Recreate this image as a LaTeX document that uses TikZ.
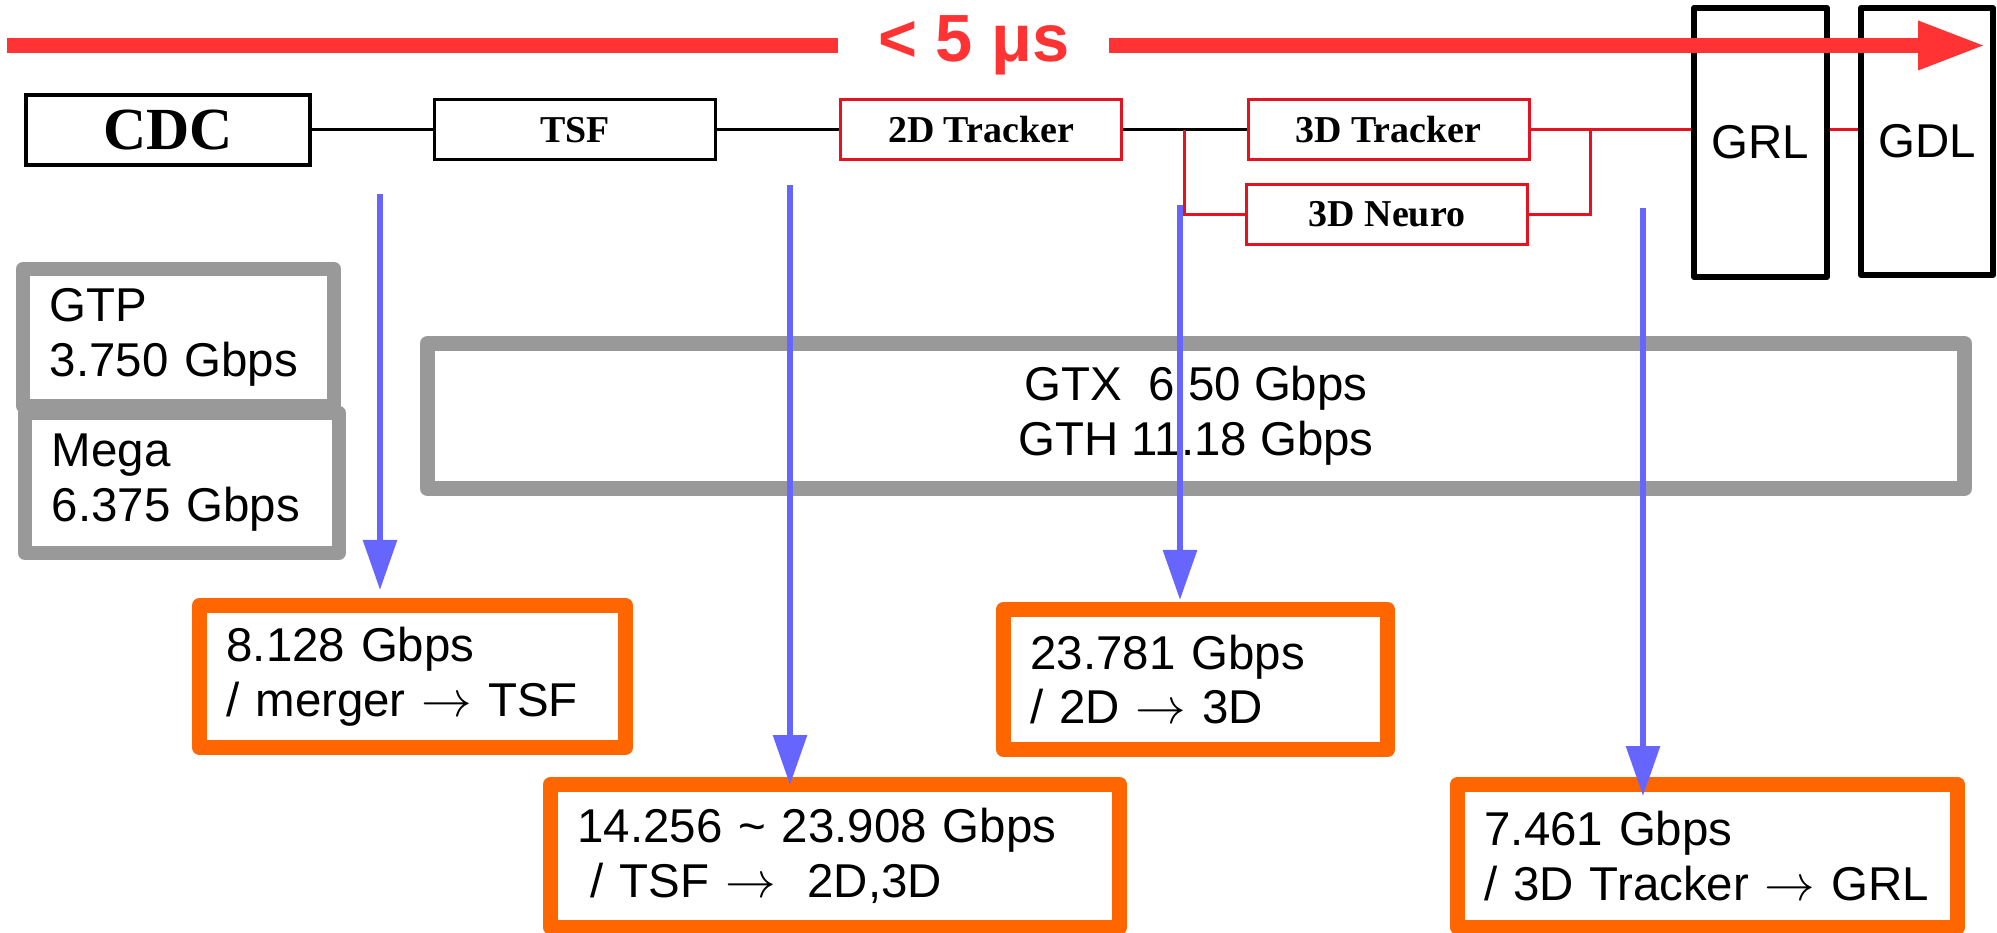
\documentclass[tikz,border=0pt]{standalone}
\usepackage{fontspec}
\setmainfont{Liberation Sans}
\newfontfamily\etapafont{Liberation Serif}
\usetikzlibrary{arrows.meta}
\definecolor{trigred}{HTML}{E5121F}
\definecolor{plazored}{HTML}{FF3333}
\definecolor{serdesgray}{HTML}{999999}
\definecolor{tasaorange}{HTML}{FF6600}
\definecolor{flujoblue}{HTML}{6666FF}

\begin{document}
\begin{tikzpicture}[
  etapa/.style={draw, line width=0.03cm, minimum width=2.81cm, minimum height=0.6cm,
                font=\etapafont\bfseries\fontsize{10.8}{12}\selectfont},
  global/.style={draw, line width=0.06cm, line join=round, minimum width=1.33cm,
                 minimum height=2.69cm, font=\fontsize{13.5}{15.6}\selectfont},
  serdes/.style={draw=serdesgray, line width=0.14cm, line join=round, inner xsep=0.27cm,
                 align=left, font=\fontsize{13.5}{15.6}\selectfont},
  tasa/.style={draw=tasaorange, line width=0.15cm, line join=round, inner xsep=0.27cm,
               minimum height=1.42cm, align=left, font=\fontsize{13.5}{15.6}\selectfont},
  enlace/.style={line width=0.03cm},
  enlacerojo/.style={line width=0.03cm, trigred},
  flechaazul/.style={-{Triangle[length=0.5cm,width=0.33cm]}, line width=0.06cm, flujoblue},
  plazo/.style={-{Triangle[length=0.68cm,width=0.45cm]}, line width=0.15cm, plazored}]
\useasboundingbox (0,0) rectangle (19.97,-9.33);

% trigger chain
\node[etapa, line width=0.04cm, minimum width=2.84cm, minimum height=0.7cm,
      font=\etapafont\bfseries\fontsize{17}{19}\selectfont] (cdc) at (1.68,-1.30) {CDC};
\node[etapa] (tsf)   at (5.75,-1.30)   {TSF};
\node[etapa, draw=trigred] (tr2)   at (9.81,-1.30)   {2D Tracker};
\node[etapa, draw=trigred] (tr3)   at (13.885,-1.30) {3D Tracker};
\node[etapa, draw=trigred] (neuro) at (13.87,-2.145) {3D Neuro};
\node[global] (grl) at (17.605,-1.425) {GRL};
\node[global, minimum width=1.32cm, minimum height=2.67cm] (gdl) at (19.27,-1.415) {GDL};
\coordinate (jl) at (11.845,-1.30);
\coordinate (jr) at (15.905,-1.30);
\draw[enlace] (cdc) -- (tsf);
\draw[enlace] (tsf) -- (tr2);
\draw[enlace] (tr2) -- (tr3);
\draw[enlacerojo] (jl) |- (neuro);
\draw[enlacerojo] (neuro) -| (jr);
\draw[enlacerojo] (tr3) -- (tr3 -| grl.west);
\draw[enlacerojo] (tr3 -| grl.east) -- (tr3 -| gdl.west);

% transceivers
\node[serdes, text width=2.57cm, minimum height=1.37cm] (gtp) at (1.785,-3.375) {GTP\\3.750 Gbps};
\node[serdes, text width=2.60cm, minimum height=1.40cm] (mega) at (1.82,-4.83) {Mega\\6.375 Gbps};
\node[serdes, line width=0.15cm, align=center, minimum width=15.37cm, minimum height=1.45cm]
  (gtx) at (11.96,-4.16) {GTX\ \ 6.50 Gbps\\GTH 11.18 Gbps};

% link rates
\node[tasa, text width=3.72cm] (r1) at (4.125,-6.765) {8.128 Gbps\\/ merger $\rightarrow$ TSF};
\node[tasa, text width=3.30cm, minimum height=1.40cm] (r2) at (11.955,-6.795) {23.781 Gbps\\/ 2D $\rightarrow$ 3D};
\node[tasa, text width=5.15cm, minimum height=1.425cm] (r3) at (8.35,-8.5575)
  {14.256 \textasciitilde{} 23.908 Gbps\\\hspace*{0.28em}/ TSF $\rightarrow$\ \ 2D,3D};
\node[tasa, text width=4.46cm, minimum height=1.425cm] (r4) at (17.075,-8.5575)
  {7.461 Gbps\\/ 3D Tracker $\rightarrow$ GRL};

\coordinate (a1) at (3.80,-1.94);
\coordinate (a2) at (7.90,-1.85);
\coordinate (a3) at (11.80,-2.05);
\coordinate (a4) at (16.43,-2.08);
\draw[flechaazul, shorten >=0.08cm]  (a1) -- (a1 |- r1.north);
\draw[flechaazul, shorten >=-0.08cm] (a2) -- (a2 |- r3.north);
\draw[flechaazul, shorten >=0.02cm]  (a3) -- (a3 |- r2.north);
\draw[flechaazul, shorten >=-0.19cm] (a4) -- (a4 |- r4.north);

% latency budget
\coordinate (t0) at (0.07,-0.455);
\coordinate (t1) at (19.86,-0.455);
\draw[plazo] (t0) -- (t1)
  node[pos=0.4885, fill=white, inner xsep=0.40cm, text=plazored,
       font=\bfseries\fontsize{19}{22}\selectfont] (lim) {< 5 μs};
\end{tikzpicture}
\end{document}
